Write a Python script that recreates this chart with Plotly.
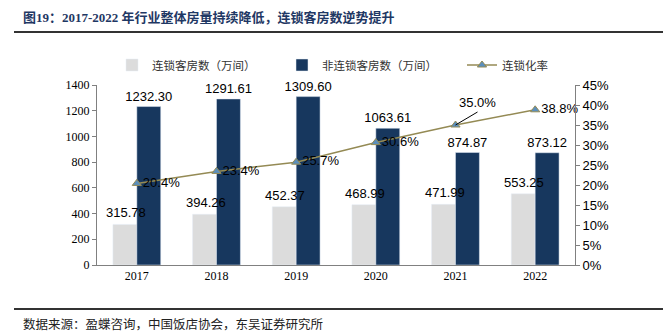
import plotly.graph_objects as go

years = ["2017", "2018", "2019", "2020", "2021", "2022"]
chain_rooms = [315.78, 394.26, 452.37, 468.99, 471.99, 553.25]
nonchain_rooms = [1232.30, 1291.61, 1309.60, 1063.61, 874.87, 873.12]
chain_rate = [20.4, 23.4, 25.7, 30.6, 35.0, 38.8]

W, H = 663, 333
L, R, T, B = 97, 88, 85, 68
pw, ph = W - L - R, H - T - B

def px(x):
    return (x - L) / pw

def py(y):
    return (H - B - y) / ph

lblfont = dict(family="Liberation Sans, Arial", size=13, color="#000")

fig = go.Figure()
fig.add_trace(go.Bar(
    x=years, y=chain_rooms, name="连锁客房数（万间）", legend="legend",
    marker=dict(color="#dcdcdc"), cliponaxis=False,
))
fig.add_trace(go.Bar(
    x=years, y=nonchain_rooms, name="非连锁客房数（万间）", legend="legend2",
    marker=dict(color="#17375e"),
    text=[f"{v:.2f}" for v in nonchain_rooms], textposition="outside",
    textfont=lblfont, constraintext="none", cliponaxis=False,
))
callout = 4  # index of the point whose label uses a leader line
rate_text = [f"{v:.1f}%" if i != callout else "" for i, v in enumerate(chain_rate)]
fig.add_trace(go.Scatter(
    x=years, y=chain_rate, name="连锁化率", yaxis="y2", mode="lines+markers+text",
    legend="legend3",
    line=dict(color="#948a54", width=1.5),
    marker=dict(symbol="triangle-up", size=8, color="#5b8fbd",
                line=dict(color="#948a54", width=1)),
    text=rate_text, textposition="middle right",
    textfont=lblfont, cliponaxis=False,
))
# labels of the grey bars drawn on top of the navy bars
for i, v in enumerate(chain_rooms):
    fig.add_annotation(
        x=i, y=v, xref="x", yref="y", text=f"{v:.2f}", showarrow=False,
        xanchor="center", yanchor="bottom", xshift=-11, yshift=2, font=lblfont,
    )
fig.add_annotation(
    x=callout, y=chain_rate[callout], xref="x", yref="y2",
    text=f"{chain_rate[callout]:.1f}%", showarrow=True, arrowhead=0, arrowwidth=1,
    arrowcolor="#000", ax=22, ay=-13, xanchor="center", yanchor="bottom",
    font=lblfont,
)

legfont = dict(family="Noto Sans CJK SC", size=11.5, color="#333")
def leg(xpix):
    return dict(orientation="h", x=px(xpix), y=py(65), xanchor="left", yanchor="middle",
                font=legfont, bgcolor="rgba(0,0,0,0)", itemwidth=30)

fig.update_layout(
    width=W, height=H, margin=dict(l=L, r=R, t=T, b=B),
    paper_bgcolor="white", plot_bgcolor="white",
    barmode="group", bargap=0.4, bargroupgap=0,
    showlegend=True,
    legend=leg(112), legend2=leg(282), legend3=leg(462),
    xaxis=dict(type="category", range=[-0.5, len(years) - 0.5], showline=True,
               linecolor="#808080", ticks="",
               tickfont=dict(family="Liberation Serif, Times New Roman", size=12, color="#000")),
    yaxis=dict(range=[0, 1400], dtick=200, showgrid=False, zeroline=False,
               showline=True, linecolor="#808080", ticks="outside", tickcolor="#808080", ticklen=4,
               tickfont=dict(family="Liberation Serif, Times New Roman", size=12, color="#000")),
    yaxis2=dict(range=[0, 45], dtick=5, ticksuffix="%", overlaying="y", side="right",
                showgrid=False, zeroline=False, showline=True, linecolor="#808080",
                ticks="outside", tickcolor="#808080", ticklen=4,
                tickfont=dict(family="Liberation Sans, Arial", size=13, color="#000")),
)

fig.add_annotation(
    xref="paper", yref="paper", x=px(21), y=py(17), xanchor="left", yanchor="middle",
    text="<b>图19：2017-2022 年行业整体房量持续降低，连锁客房数逆势提升</b>",
    showarrow=False,
    font=dict(family="Liberation Serif, Noto Sans CJK SC", size=13, color="#1f3864"),
)
fig.add_annotation(
    xref="paper", yref="paper", x=px(21), y=py(323), xanchor="left", yanchor="middle",
    text="数据来源：盈蝶咨询，中国饭店协会，东吴证券研究所",
    showarrow=False, font=dict(family="Noto Sans CJK SC", size=12.5, color="#222"),
)
fig.add_shape(type="line", xref="paper", yref="paper", x0=px(14), x1=px(663),
              y0=py(32), y1=py(32), line=dict(color="#333", width=2))
fig.add_shape(type="line", xref="paper", yref="paper", x0=px(14), x1=px(663),
              y0=py(309), y1=py(309), line=dict(color="#333", width=2))

fig.write_html("out.html")
